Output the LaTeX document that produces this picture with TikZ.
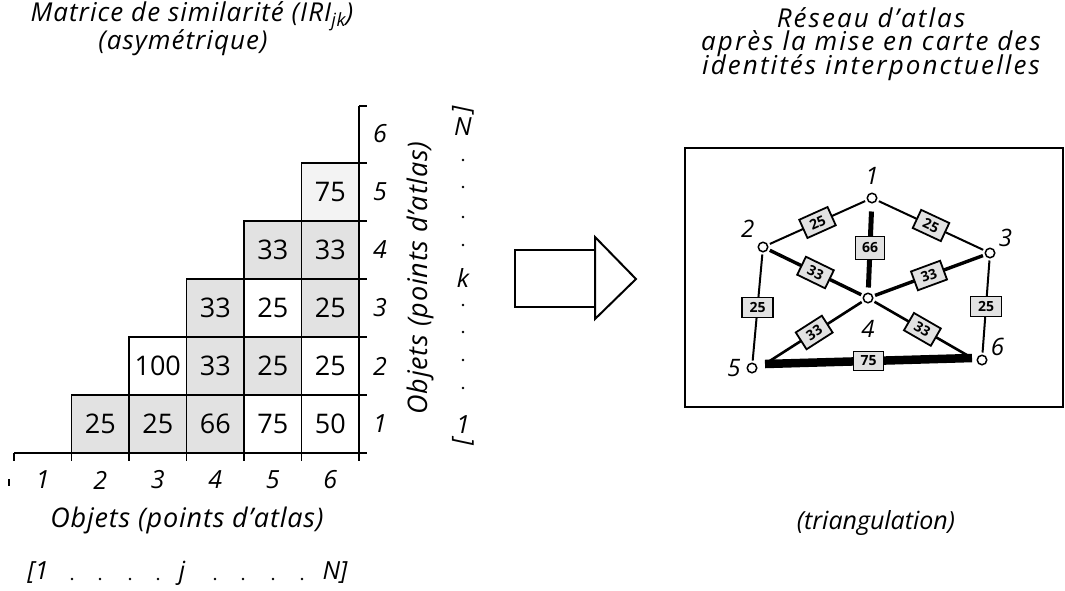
\documentclass[tikz,border=0pt]{standalone}
\usepackage{fontspec}
\setmainfont{Open Sans}
\usepackage{tikz}
\usetikzlibrary{positioning,calc}
\definecolor{stipple}{RGB}{226,226,226}
\definecolor{faint}{RGB}{243,243,243}
\tikzstyle{cell}=[draw,line width=1.8pt,minimum width=57.5pt,minimum height=58pt,inner sep=0pt,font=\fontsize{27}{27}\selectfont]
\tikzstyle{dotted cell}=[cell,fill=stipple]
\tikzstyle{lab}=[inner sep=0pt,font=\fontsize{25}{25}\selectfont\itshape]
\tikzstyle{axis title}=[inner sep=0pt,font=\fontsize{27}{27}\selectfont\itshape\addfontfeature{LetterSpace=3}]
\tikzstyle{title}=[inner sep=0pt,font=\fontsize{26}{26}\selectfont\itshape\addfontfeature{LetterSpace=4}]
\tikzstyle{wide title}=[inner sep=0pt,align=center,font=\fontsize{26}{26}\selectfont\itshape\addfontfeature{LetterSpace=8}]
\tikzstyle{dotmark}=[circle,fill,minimum size=2.8pt,inner sep=0pt]
\tikzstyle{station}=[draw,circle,line width=1.5pt,minimum size=9.5pt,inner sep=0pt,fill=white]
\tikzstyle{score}=[draw,line width=1.8pt,fill=stipple,inner sep=1pt,minimum width=31pt,minimum height=20pt,font=\fontsize{14}{14}\selectfont\bfseries]
\tikzstyle{fine}=[line width=2pt,shorten <=2pt,shorten >=2pt]
\tikzstyle{num}=[inner sep=0pt,font=\fontsize{24}{24}\selectfont\itshape]

\begin{document}
\begin{tikzpicture}[
  x=1pt, y=-1pt,
  line width=1.8pt,
]
\useasboundingbox (0,0) rectangle (1065,590);

\node[title] (t1) at (192,16) {Matrice de similarité (IRI\textsubscript{jk})};
\node[title] (t2) at (183,43) {(asymétrique)};

\node[dotted cell] (r1c2) at (100.25,424) {25};
\node[dotted cell] (r1c3) at (157.75,424) {25};
\node[dotted cell] (r1c4) at (215.25,424) {66};
\node[cell] (r1c5) at (272.75,424) {75};
\node[cell] (r1c6) at (330.25,424) {50};
\node[cell] (r2c3) at (157.75,366) {100};
\node[dotted cell] (r2c4) at (215.25,366) {33};
\node[dotted cell] (r2c5) at (272.75,366) {25};
\node[cell] (r2c6) at (330.25,366) {25};
\node[dotted cell] (r3c4) at (215.25,308) {33};
\node[cell] (r3c5) at (272.75,308) {25};
\node[dotted cell] (r3c6) at (330.25,308) {25};
\node[dotted cell] (r4c5) at (272.75,250) {33};
\node[dotted cell] (r4c6) at (330.25,250) {33};
\node[cell,fill=faint] (r5c6) at (330.25,192) {75};

\draw (14,453) -- (367,453);
\draw (359,106) -- (359,453);
\foreach \x in {14,71.5,129,186.5,244,301.5,359}
  \draw (\x,453) -- (\x,461);
\foreach \y in {106,163,221,279,337,395}
  \draw (359,\y) -- (367,\y);
\draw (9,479) -- (9,486);

\foreach \i in {1,...,6}
  \node[lab] (x\i) at (42.75+57.5*\i-57.5,480) {\i};
\foreach \i in {1,...,6}
  \node[lab] (y\i) at (380,482-58*\i) {\i};

\node[axis title,rotate=90] (ylab) at (420,278) {Objets (points d'atlas)};
\node[axis title] (xlab) at (187,520) {Objets (points d'atlas)};

\node[lab] (xa) at (38,573) {[1};
\node[lab] (xj) at (182,573) {j};
\node[lab] (xn) at (335,573) {N]};
\foreach \x [count=\i] in {72,100,130,158,215,243,273,302}
  \node[dotmark] (hd\i) at (\x,579) {};

\node[lab,rotate=90] (yb) at (463,110) {]};
\node[lab] (yn) at (463,127) {N};
\node[lab] (yk) at (463,278) {k};
\node[lab] (ya) at (463,425) {1};
\node[lab,rotate=90] (yc) at (463,442) {[};
\foreach \y [count=\i] in {160,187,217,245,305,332,360,388}
  \node[dotmark] (vd\i) at (463,\y) {};

\draw[line width=2pt] (515,250) rectangle (595,307);
\draw[line width=2pt,line join=miter] (595,237) -- (636,279) -- (595,319) -- cycle;

\node[wide title] (t3) at (871,44) {Réseau d'atlas\\[-3pt]après la mise en carte des\\[-3pt]identités interponctuelles};
\draw[line width=2pt] (685,148) rectangle (1063,407);

\node[station] (n1) at (872,198) {};
\node[station] (n2) at (763,247) {};
\node[station] (n3) at (990,253) {};
\node[station] (n4) at (868,298) {};
\node[station] (n5) at (752,368) {};
\node[station] (n6) at (982,360) {};
\coordinate (b5) at (765,364);
\coordinate (b6) at (972,358);

\node[num] (l1) [above=7pt of n1] {1};
\node[num] (l2) [above left=5pt and 4pt of n2] {2};
\node[num] (l3) [above right=1pt and 4pt of n3] {3};
\node[num] (l4) [below=16pt of n4] {4};
\node[num] (l5) [left=5pt of n5] {5};
\node[num] (l6) [above right=-1pt and 4pt of n6] {6};

\draw[fine] (n1) -- node[score,sloped] {25} (n2);
\draw[fine] (n1) -- node[score,sloped] {25} (n3);
\draw[fine] (n2) -- node[score] {25} (n5);
\draw[fine] (n3) -- node[score] {25} (n6);
\draw[fine,line width=3.4pt] (n2) -- node[score,sloped] {33} (n4);
\draw[fine,line width=3.4pt] (n3) -- node[score,sloped] {33} (n4);
\draw[fine,line width=2.6pt] (n4) -- node[score,sloped] {33} (b5);
\draw[fine,line width=2.6pt] (n4) -- node[score,sloped] {33} (b6);
\draw[line width=5pt,shorten <=8pt,shorten >=5pt] (n1) -- node[score,minimum width=29pt,minimum height=23pt] {66} (n4);
\draw[line width=8.5pt] (b5) -- node[score,minimum width=30pt,minimum height=19pt] {75} (b6);

\node[lab] (t4) at (876,523) {(triangulation)};
\end{tikzpicture}
\end{document}
